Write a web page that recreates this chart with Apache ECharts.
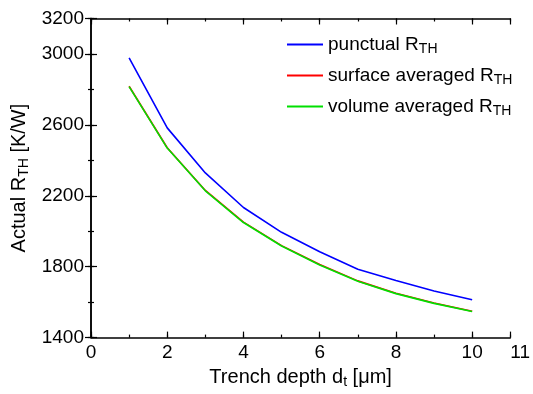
<!DOCTYPE html>
<html><head><meta charset="utf-8">
<script src="https://cdn.jsdelivr.net/npm/echarts@6/dist/echarts.min.js"></script>
<style>html,body{margin:0;padding:0;background:#fff}#c{width:533px;height:394px}</style>
</head><body><div id="c"></div>
<script>
const depth = [1, 2, 3, 4, 5, 6, 7, 8, 9, 10];
const punctual = [2978, 2583, 2329, 2134, 1994, 1884, 1786, 1722, 1663, 1613];
const surfaceAvg = [2818, 2471, 2230, 2051, 1919, 1812, 1720, 1650, 1595, 1549];
const volumeAvg = [2816, 2469, 2228, 2049, 1917, 1810, 1718, 1648, 1593, 1547];
const seriesNames = ['punctual R_TH', 'surface averaged R_TH', 'volume averaged R_TH'];
const seriesColors = ['#0000ff', '#ff0000', '#00e000'];
const xTickLabels = [0, 2, 4, 6, 8, 10, 11];
const yTickLabels = [1400, 1800, 2200, 2600, 3000, 3200];

const font = 'Liberation Sans, Arial, sans-serif';
const subRich = {
  sub: {fontSize: 14, fontFamily: font, color: '#000', padding: [9, 0, 0, 0]}
};
const pairs = (xs, ys) => xs.map((x, i) => [x, ys[i]]);

function xAxisDef(pos, major, show) {
  return {
    type: 'value', min: 0, max: 11, interval: major ? 2 : 1, position: pos,
    axisLine: {show: major, lineStyle: {color: '#000', width: 1.5}},
    axisTick: {show: true, inside: true, length: major ? 6 : 3, lineStyle: {color: '#000', width: 1.2}},
    splitLine: {show: false},
    axisLabel: {show: show, color: '#000', fontSize: 19, fontFamily: font, margin: 6,
      alignMaxLabel: 'left',
      formatter: v => xTickLabels.includes(v) ? String(v) : ''},
    name: show ? 'Trench depth d{sub|t} [μm]' : '',
    nameLocation: 'middle', nameGap: 23,
    nameTextStyle: {color: '#000', fontSize: 20, fontFamily: font, rich: subRich}
  };
}
function yAxisDef(pos, major, show) {
  return {
    type: 'value', min: 1400, max: 3200, interval: major ? 400 : 200, position: pos,
    axisLine: {show: major, lineStyle: {color: '#000', width: 1.5}},
    axisTick: {show: true, inside: true, length: major ? 6 : 3, lineStyle: {color: '#000', width: 1.2}},
    splitLine: {show: false},
    axisLabel: {show: show, color: '#000', fontSize: 19, fontFamily: font, margin: 7,
      formatter: v => yTickLabels.includes(v) ? String(v) : ''},
    name: show ? 'Actual R{sub|TH} [K/W]' : '',
    nameLocation: 'middle', nameGap: 54, nameRotate: 90,
    nameTextStyle: {color: '#000', fontSize: 20, fontFamily: font, rich: subRich}
  };
}

const chart = echarts.init(document.getElementById('c'), null, {renderer: 'canvas'});
chart.setOption({
  animation: false,
  backgroundColor: '#fff',
  grid: {left: 91, right: 10, top: 18.5, bottom: 49.5, containLabel: false},
  xAxis: [xAxisDef('bottom', true, true), xAxisDef('bottom', false, false),
          xAxisDef('top', true, false), xAxisDef('top', false, false)],
  yAxis: [yAxisDef('left', true, true), yAxisDef('left', false, false),
          yAxisDef('right', true, false), yAxisDef('right', false, false)],
  legend: {
    orient: 'vertical', left: 282, top: 30, icon: 'rect', itemWidth: 36, itemHeight: 2, itemGap: 10,
    textStyle: {color: '#000', fontSize: 19, fontFamily: font, rich: subRich},
    formatter: n => n.replace('_TH', '{sub|TH}'),
    data: seriesNames
  },
  series: [
    {name: seriesNames[0], type: 'line', data: pairs(depth, punctual), symbol: 'none', color: seriesColors[0], lineStyle: {width: 1.6}},
    {name: seriesNames[1], type: 'line', data: pairs(depth, surfaceAvg), symbol: 'none', color: seriesColors[1], lineStyle: {width: 1.6}},
    {name: seriesNames[2], type: 'line', data: pairs(depth, volumeAvg), symbol: 'none', color: seriesColors[2], lineStyle: {width: 1.6}}
  ]
});
</script></body></html>
